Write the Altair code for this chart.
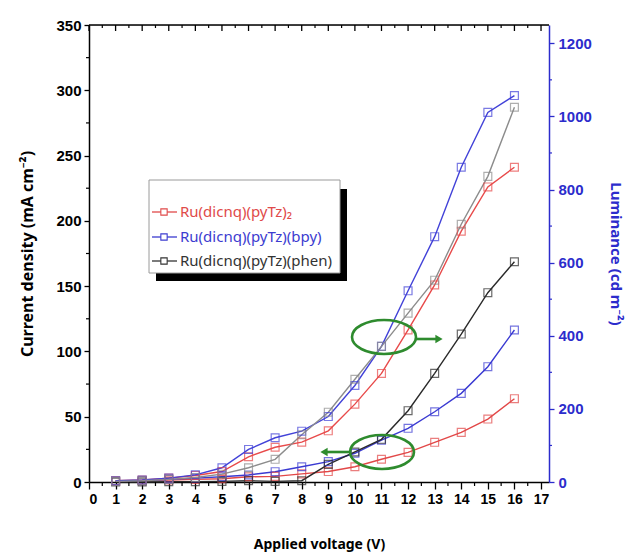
import altair as alt
import pandas as pd

# ---------------- data ----------------
voltage = list(range(1, 17))

# current density (mA cm^-2), left axis
j_red = [0.5, 1, 1.5, 2, 2.5, 4, 4.3, 6.2, 8, 11.7, 17.4, 22.7, 30.4, 38, 48.2, 63.8]
j_blue = [0.5, 1, 2, 3, 4, 5.4, 7.9, 11.7, 15.6, 22, 32, 41.1, 53.8, 67.9, 88.3, 116.4]
j_black = [0, 0, 0.2, 0.3, 0.5, 1, 0.5, 1, 13.5, 23, 32.7, 54.6, 83.2, 113.3, 145, 168.7]

# luminance (cd m^-2), right axis
l_red = [3.6, 5.4, 10.7, 17.9, 28.6, 69, 95, 109, 140, 213, 297, 416, 539, 686, 807, 861]
l_blue = [3.6, 5.4, 10.7, 19.6, 39, 89, 121, 139, 179, 264, 371, 523, 671, 861, 1011, 1057]
l_black = [1.8, 3.6, 7.1, 12.5, 21.4, 39, 62, 129, 191, 281, 371, 462, 552, 705, 836, 1025]

series_names = ["Ru(dicnq)(pyTz)\u2082", "Ru(dicnq)(pyTz)(bpy)", "Ru(dicnq)(pyTz)(phen)"]
legend_colors = ["#e04a4a", "#3c3cd0", "#333333"]

keys = ["J_red", "J_blue", "J_black", "L_red", "L_blue", "L_black"]
key_colors = ["#e24848", "#3a3ad2", "#2a2a2a", "#e84a4a", "#4242d8", "#8c8c8c"]

x_ticks = list(range(0, 18))
x_minor = [i + 0.5 for i in range(0, 17)]
j_ticks = list(range(0, 351, 50))
j_minor = list(range(25, 350, 50))
l_ticks = list(range(0, 1201, 200))
l_minor = list(range(100, 1200, 200))

rows_j = []
for key, vals in zip(keys[:3], [j_red, j_blue, j_black]):
    for v, y in zip(voltage, vals):
        rows_j.append({"V": v, "value": y, "key": key})
rows_l = []
for key, vals in zip(keys[3:], [l_red, l_blue, l_black]):
    for v, y in zip(voltage, vals):
        rows_l.append({"V": v, "value": y, "key": key})
df_j = pd.DataFrame(rows_j)
df_l = pd.DataFrame(rows_l)

# ---------------- styles ----------------
W, H = 460, 457
LABF = "Liberation Sans, Arial, sans-serif"
TITLEF = "Noto Sans, DejaVu Sans, sans-serif"
BLUE = "#2c2ccc"
GREEN = "#2e8b2e"

xscale = alt.Scale(domain=[0, 17.3], nice=False, zero=False)
jscale = alt.Scale(domain=[0, 350], nice=False)
lscale = alt.Scale(domain=[0, 1250], nice=False)
cscale = alt.Scale(domain=keys, range=key_colors)

x_axis = alt.Axis(
    orient="bottom", values=x_ticks, tickCount=18, tickSize=7, labelFontSize=14, labelFont=LABF,
    labelFontWeight="bold", labelColor="black", labelPadding=3, labelOverlap=False,
    domainColor="black", tickColor="black", domainWidth=1.5, tickWidth=1.3, grid=False,
    title="Applied voltage (V)", titleFont=TITLEF, titleFontSize=14,
    titleFontWeight="bold", titlePadding=31, titleColor="black",
)
j_axis = alt.Axis(
    orient="left", values=j_ticks, tickSize=5, labelFontSize=15, labelFont=LABF,
    labelFontWeight="bold", labelColor="black", labelPadding=3, labelOverlap=False,
    domainColor="black", tickColor="black", domainWidth=1.5, tickWidth=1.3, grid=False,
    title="Current density (mA cm\u207b\u00b2)", titleFont=TITLEF, titleFontSize=16,
    titleFontWeight="bold", titlePadding=20, titleColor="black",
)
l_axis = alt.Axis(
    orient="right", values=l_ticks, format="d", tickSize=5, labelFontSize=15, labelFont=LABF,
    labelFontWeight="bold", labelColor=BLUE, labelPadding=4, labelOverlap=False,
    domainColor=BLUE, tickColor=BLUE, domainWidth=1.5, tickWidth=1.3, grid=False,
    title="Luminance (cd m\u207b\u00b2)", titleFont=TITLEF, titleFontSize=15,
    titleFontWeight="bold", titlePadding=16, titleColor=BLUE,
)


def X(field):
    return alt.X(field, type="quantitative", scale=xscale, axis=x_axis)


def YJ(field):
    return alt.Y(field, type="quantitative", scale=jscale, axis=j_axis)


def YL(field):
    return alt.Y(field, type="quantitative", scale=lscale, axis=l_axis)


# ---------------- current density group ----------------
j_lines = alt.Chart(df_j).mark_line(strokeWidth=1.4).encode(
    x=X("V"), y=YJ("value"),
    color=alt.Color("key:N", scale=cscale, legend=None),
)
j_pts = alt.Chart(df_j).mark_point(shape="square", filled=False, size=62, strokeWidth=1.2).encode(
    x=X("V"), y=YJ("value"),
    color=alt.Color("key:N", scale=cscale, legend=None),
)
j_min = alt.Chart(pd.DataFrame({"t": j_minor})).mark_rule(color="black", strokeWidth=1.2).encode(
    y=YJ("t"), x=alt.value(-3), x2=alt.value(0)
)
j_group = alt.layer(j_lines, j_min, j_pts)

# ---------------- luminance group ----------------
l_lines = alt.Chart(df_l).mark_line(strokeWidth=1.4).encode(
    x=X("V"), y=YL("value"),
    color=alt.Color("key:N", scale=cscale, legend=None),
)
l_pts = alt.Chart(df_l).mark_point(shape="square", filled=False, size=62, strokeWidth=1.2).encode(
    x=X("V"), y=YL("value"),
    color=alt.Color("key:N", scale=cscale, legend=None),
)
l_min = alt.Chart(pd.DataFrame({"t": l_minor})).mark_rule(color=BLUE, strokeWidth=1.2).encode(
    y=YL("t"), x=alt.value(W), x2=alt.value(W + 3)
)
l_group = alt.layer(l_lines, l_min, l_pts)

# ---------------- frame: top axis & minor x ticks ----------------
one = pd.DataFrame({"a": [0]})
top_line = alt.Chart(one).mark_rule(color="black", strokeWidth=1.5).encode(
    x=alt.value(0), x2=alt.value(W), y=alt.value(0)
)
top_major = alt.Chart(pd.DataFrame({"t": x_ticks})).mark_rule(color="black", strokeWidth=1.3).encode(
    x=X("t"), y=alt.value(0), y2=alt.value(6)
)
top_minor = alt.Chart(pd.DataFrame({"t": x_minor})).mark_rule(color="black", strokeWidth=1.2).encode(
    x=X("t"), y=alt.value(0), y2=alt.value(3)
)
bot_minor = alt.Chart(pd.DataFrame({"t": x_minor})).mark_rule(color="black", strokeWidth=1.2).encode(
    x=X("t"), y=alt.value(H), y2=alt.value(H + 4)
)

# ---------------- legend ----------------
LX0, LY0, LX1, LY1 = 60, 155, 251, 248
shadow = alt.Chart(one).mark_rect(color="black").encode(
    x=alt.value(LX0 + 7), x2=alt.value(LX1 + 7), y=alt.value(LY0 + 9), y2=alt.value(LY1 + 8)
)
box = alt.Chart(one).mark_rect(fill="white", stroke="#9a9a9a", strokeWidth=1).encode(
    x=alt.value(LX0), x2=alt.value(LX1), y=alt.value(LY0), y2=alt.value(LY1)
)
legend_layers = [shadow, box]
row_y = [187, 212, 236]
for name, col, ry in zip(series_names, legend_colors, row_y):
    legend_layers.append(
        alt.Chart(one).mark_rule(color=col, strokeWidth=1.3).encode(
            x=alt.value(LX0 + 3), x2=alt.value(LX0 + 28), y=alt.value(ry)
        )
    )
    legend_layers.append(
        alt.Chart(one).mark_point(shape="square", filled=True, fill="white", stroke=col,
                                  size=40, strokeWidth=1.1, opacity=1).encode(
            x=alt.value(LX0 + 15), y=alt.value(ry)
        )
    )
    legend_layers.append(
        alt.Chart(one).mark_text(align="left", baseline="middle", fontSize=15,
                                 font=TITLEF, color=col).encode(
            x=alt.value(LX0 + 31), y=alt.value(ry), text=alt.value(name)
        )
    )

# ---------------- annotations (ellipses + arrows) ----------------
ELLIPSE = ("M -1 0 C -1 -0.293 -0.552 -0.53 0 -0.53 C 0.552 -0.53 1 -0.293 1 0 "
           "C 1 0.293 0.552 0.53 0 0.53 C -0.552 0.53 -1 0.293 -1 0 Z")
ann = []
for cx, cy in [(295, 312), (293, 427)]:
    ann.append(
        alt.Chart(one).mark_point(shape=ELLIPSE, filled=False, size=64 * 64,
                                  stroke=GREEN, strokeWidth=2.6, opacity=1).encode(
            x=alt.value(cx), y=alt.value(cy)
        )
    )
ann.append(alt.Chart(one).mark_rule(color=GREEN, strokeWidth=2.6).encode(
    x=alt.value(327), x2=alt.value(347), y=alt.value(314)))
ann.append(alt.Chart(one).mark_point(shape="triangle-right", filled=True, color=GREEN,
                                     size=70, opacity=1).encode(x=alt.value(350), y=alt.value(314)))
ann.append(alt.Chart(one).mark_rule(color=GREEN, strokeWidth=2.6).encode(
    x=alt.value(261), x2=alt.value(238), y=alt.value(427)))
ann.append(alt.Chart(one).mark_point(shape="triangle-left", filled=True, color=GREEN,
                                     size=70, opacity=1).encode(x=alt.value(235), y=alt.value(427)))

chart = alt.layer(
    j_group, l_group, top_line, top_major, top_minor, bot_minor, *legend_layers, *ann
).resolve_scale(y="independent").properties(
    width=W, height=H,
    autosize=alt.AutoSizeParams(type="none"),
    padding={"left": 89, "top": 25, "right": 81, "bottom": 72},
).configure_view(stroke=None).configure(background="white")

chart.save("out.html", embed_options={"renderer": "svg", "actions": False})
